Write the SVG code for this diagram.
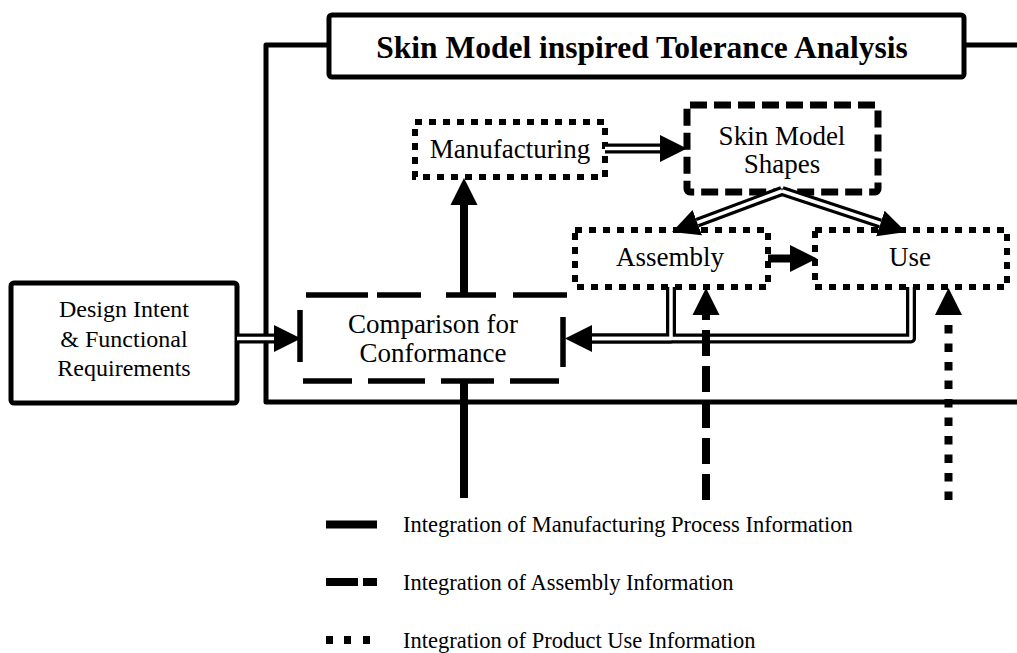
<svg xmlns="http://www.w3.org/2000/svg" width="1017" height="653" viewBox="0 0 1017 653">
<style>
.t{font-family:"Liberation Serif","Times New Roman",serif;fill:#000;text-anchor:middle;font-size:27px}
.sm{font-size:24px}
.lg{font-family:"Liberation Serif","Times New Roman",serif;fill:#000;font-size:22.5px}
.solidbox{fill:#fff;stroke:#000;stroke-width:5;stroke-linejoin:round}
.dot{fill:none;stroke:#000;stroke-width:6;stroke-dasharray:7 7}
.dash{fill:none;stroke:#000;stroke-width:7;stroke-dasharray:17 7}
.frame{fill:none;stroke:#000;stroke-width:5;stroke-linejoin:round}
.dblo{fill:none;stroke:#000;stroke-width:10;stroke-linejoin:round}
.dbli{fill:none;stroke:#fff;stroke-width:3.5;stroke-linejoin:round}
.thick{fill:none;stroke:#000;stroke-width:8}
.cdash{stroke:#000;stroke-width:5.5}
</style>
<defs>
<marker id="ah" markerUnits="userSpaceOnUse" viewBox="0 -15 28 30" markerWidth="28" markerHeight="30" refX="0" refY="0" orient="auto">
<path d="M0,-13.5 L27,0 L0,13.5 z" fill="#000"/>
</marker>
</defs>

<g id="frame">
<path class="frame" d="M329,45 H266 V402 H1017"/>
<path class="frame" d="M964,45 H1017"/>
</g>

<g id="title">
<rect class="solidbox" x="329" y="15" width="635" height="62" rx="3"/>
<text class="t" x="642" y="58" style="font-size:31.5px;font-weight:bold">Skin Model inspired Tolerance Analysis</text>
</g>

<g id="design">
<rect class="solidbox" x="11" y="283" width="226" height="120" rx="3"/>
<text class="t sm" x="124" y="317">Design Intent</text>
<text class="t sm" x="124" y="347">&amp; Functional</text>
<text class="t sm" x="124" y="376">Requirements</text>
</g>

<g id="comparison">
<line class="cdash" x1="306" y1="295" x2="368" y2="295"/>
<line class="cdash" x1="377" y1="295" x2="421" y2="295"/>
<line class="cdash" x1="446" y1="295" x2="496" y2="295"/>
<line class="cdash" x1="513" y1="295" x2="567" y2="295"/>
<line class="cdash" x1="303" y1="381" x2="352" y2="381"/>
<line class="cdash" x1="368" y1="381" x2="425" y2="381"/>
<line class="cdash" x1="441" y1="381" x2="494" y2="381"/>
<line class="cdash" x1="510" y1="381" x2="559" y2="381"/>
<line class="cdash" x1="300" y1="310" x2="300" y2="362"/>
<line class="cdash" x1="563" y1="317" x2="563" y2="367"/>
<text class="t" x="433" y="333">Comparison for</text>
<text class="t" x="433" y="362">Conformance</text>
</g>

<g id="manufacturing">
<rect class="dot" x="415" y="122" width="190" height="55"/>
<text class="t" x="510" y="158">Manufacturing</text>
</g>

<g id="skinmodel">
<rect class="dash" x="687" y="105" width="191" height="87" rx="3"/>
<text class="t" x="782" y="145">Skin Model</text>
<text class="t" x="782" y="173">Shapes</text>
</g>

<g id="assembly">
<rect class="dot" x="575" y="230" width="193" height="57"/>
<text class="t" x="670" y="266">Assembly</text>
</g>

<g id="use">
<rect class="dot" x="815" y="230" width="192" height="57"/>
<text class="t" x="910" y="266">Use</text>
</g>

<g id="connectors">
<path class="dblo" d="M605,148.5 H660" marker-end="url(#ah)"/>
<path class="dbli" d="M605,148.5 H660"/>
<path class="dblo" d="M237,338.5 H274" marker-end="url(#ah)"/>
<path class="dbli" d="M237,338.5 H274"/>
<path class="dblo" d="M782,191 L697.3,222.6" marker-end="url(#ah)"/>
<path class="dblo" d="M782,191 L880.4,223.5" marker-end="url(#ah)"/>
<path class="dbli" d="M782,191 L697.3,222.6"/>
<path class="dbli" d="M782,191 L880.4,223.5"/>
<path class="dblo" d="M911,287 V338.5 H592" marker-end="url(#ah)"/>
<path class="dblo" d="M671,287 V338.5 H592"/>
<path class="dbli" d="M911,287 V338.5 H592"/>
<path class="dbli" d="M671,287 V338.5 H592"/>
<path class="thick" d="M464,295 V205" marker-end="url(#ah)"/>
<path class="thick" d="M768,258.5 H790" marker-end="url(#ah)"/>
<path class="thick" d="M464,381 V498"/>
<path class="thick" d="M706,500 V315" style="stroke-dasharray:26 10"/>
<path d="M692.5,315 L706,288 L719.5,315 z" fill="#000"/>
<path class="thick" d="M948.5,500 V315" style="stroke-dasharray:8.5 10"/>
<path d="M935,315 L948.5,288 L962,315 z" fill="#000"/>
</g>

<g id="legend">
<line class="thick" x1="326" y1="524.5" x2="377" y2="524.5"/>
<line class="thick" x1="326" y1="582" x2="358" y2="582"/>
<line class="thick" x1="363" y1="582" x2="377" y2="582"/>
<rect x="326" y="636" width="7" height="8" fill="#000"/>
<rect x="344" y="636" width="7" height="8" fill="#000"/>
<rect x="363" y="636" width="7" height="8" fill="#000"/>
<text class="lg" x="403" y="532">Integration of Manufacturing Process Information</text>
<text class="lg" x="403" y="590">Integration of Assembly Information</text>
<text class="lg" x="403" y="648">Integration of Product Use Information</text>
</g>
</svg>
